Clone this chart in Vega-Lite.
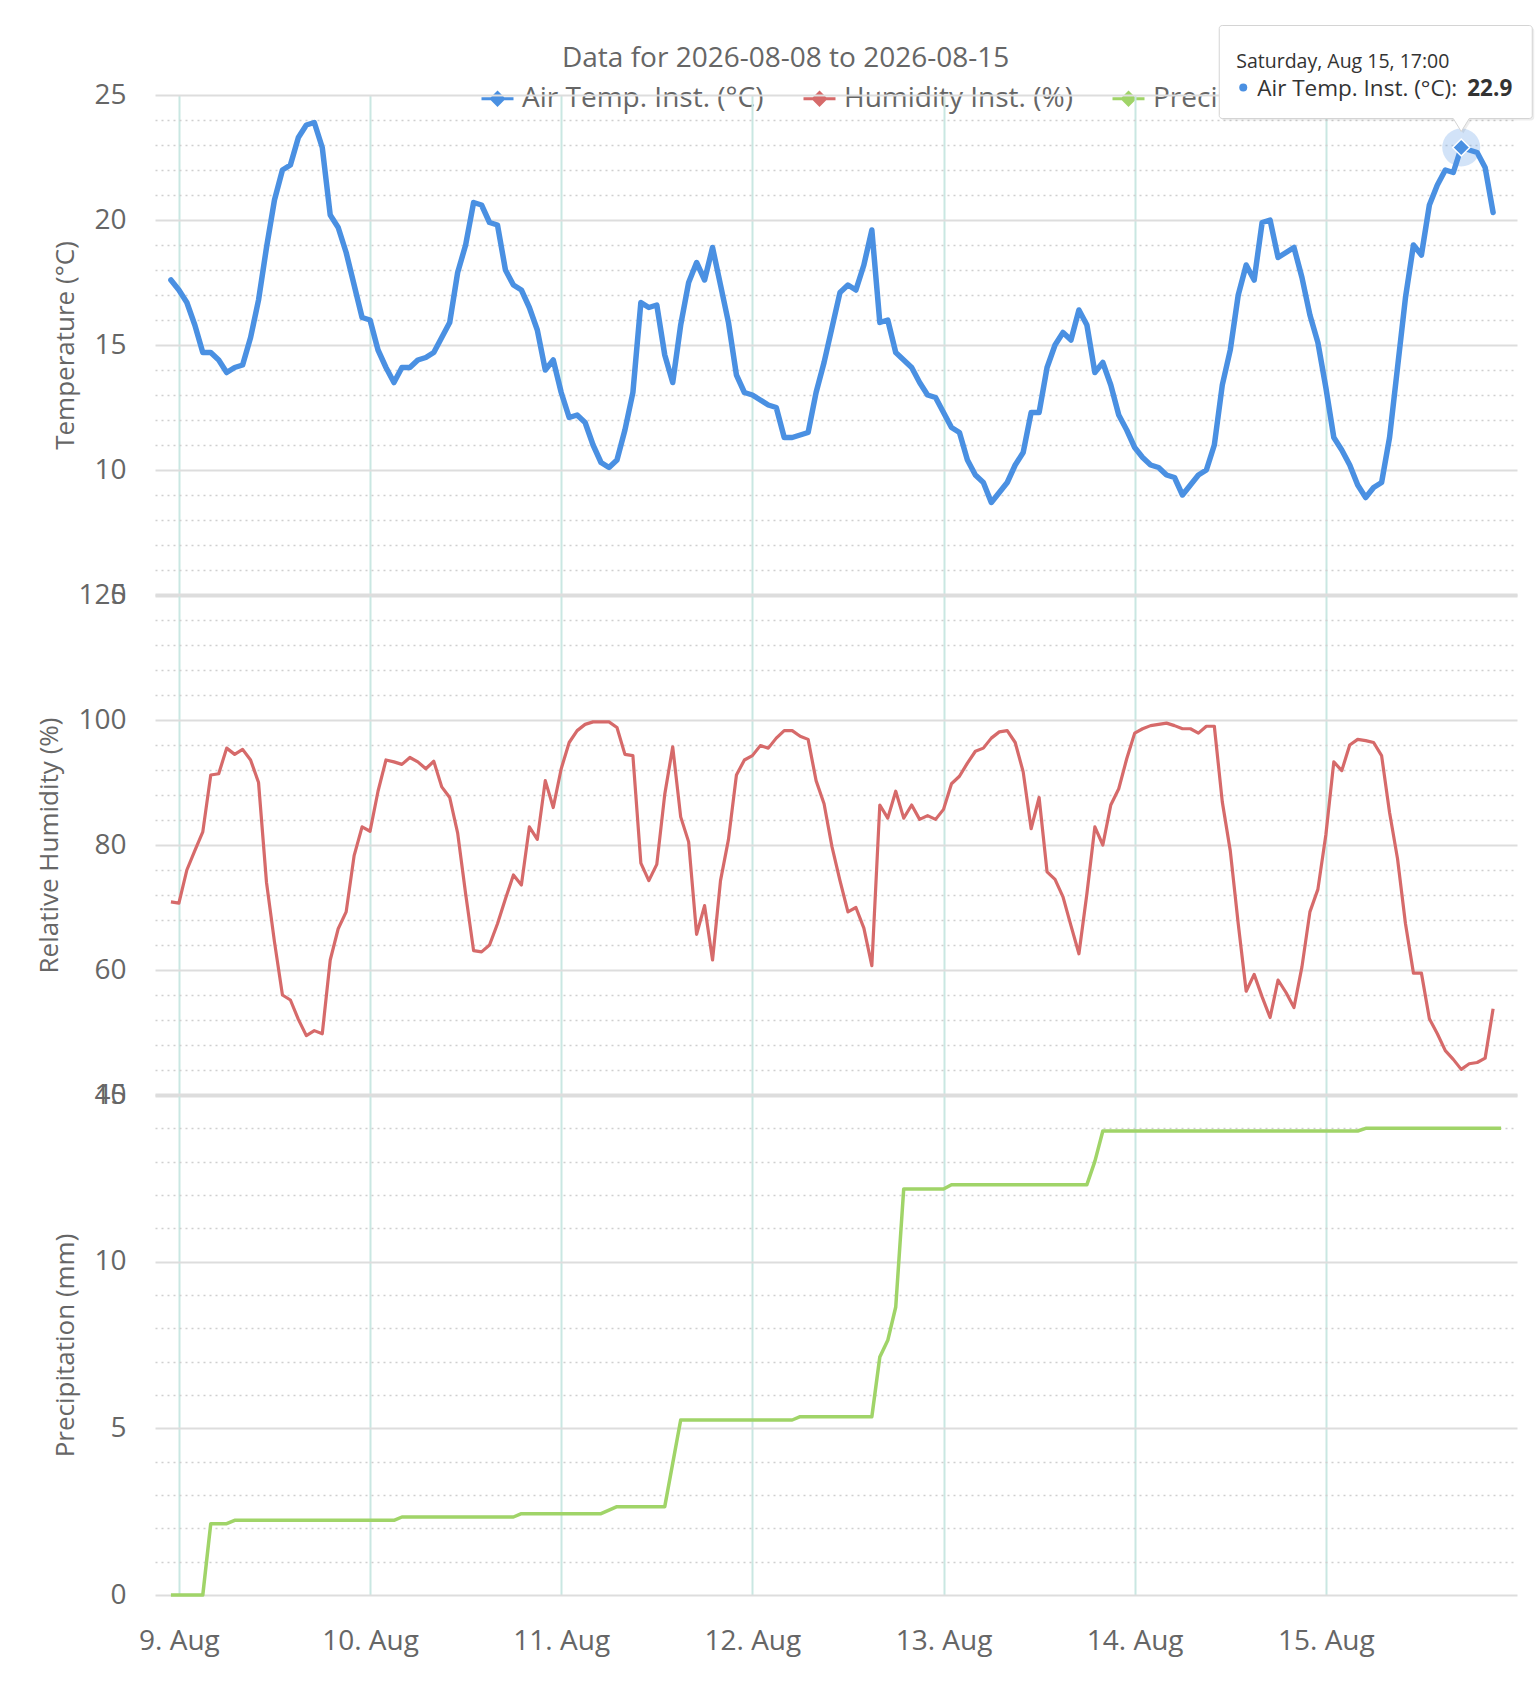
{
  "$schema": "https://vega.github.io/schema/vega-lite/v6.json",
  "description": "Air temperature, humidity and cumulative precipitation, 2026-08-08 to 2026-08-15",
  "background": "white",
  "padding": {"left": 36, "top": 23, "right": 0, "bottom": 20},
  "title": {
    "text": "Data for 2026-08-08 to 2026-08-15",
    "font": "Open Sans",
    "fontSize": 28,
    "fontWeight": "normal",
    "color": "#666666",
    "anchor": "middle",
    "offset": -49
  },
  "config": {
    "font": "Open Sans",
    "view": {"stroke": null},
    "axis": {
      "labelFont": "Open Sans",
      "labelFontSize": 28,
      "labelColor": "#666666",
      "titleFont": "Open Sans",
      "titleFontSize": 26,
      "titleFontWeight": "normal",
      "titleColor": "#666666",
      "domain": false,
      "ticks": false,
      "tickSize": 0,
      "labelFlush": false,
      "labelOverlap": false,
      "labelBound": false
    }
  },
  "datasets": {
    "temp": [
      {"t": "2026-08-08T23:00", "v": 17.6},
      {"t": "2026-08-09T00:00", "v": 17.2}, {"t": "2026-08-09T01:00", "v": 16.7}, {"t": "2026-08-09T02:00", "v": 15.8}, {"t": "2026-08-09T03:00", "v": 14.7},
      {"t": "2026-08-09T04:00", "v": 14.7}, {"t": "2026-08-09T05:00", "v": 14.4}, {"t": "2026-08-09T06:00", "v": 13.9}, {"t": "2026-08-09T07:00", "v": 14.1},
      {"t": "2026-08-09T08:00", "v": 14.2}, {"t": "2026-08-09T09:00", "v": 15.3}, {"t": "2026-08-09T10:00", "v": 16.8}, {"t": "2026-08-09T11:00", "v": 18.9},
      {"t": "2026-08-09T12:00", "v": 20.8}, {"t": "2026-08-09T13:00", "v": 22.0}, {"t": "2026-08-09T14:00", "v": 22.2}, {"t": "2026-08-09T15:00", "v": 23.3},
      {"t": "2026-08-09T16:00", "v": 23.8}, {"t": "2026-08-09T17:00", "v": 23.9}, {"t": "2026-08-09T18:00", "v": 22.9}, {"t": "2026-08-09T19:00", "v": 20.2},
      {"t": "2026-08-09T20:00", "v": 19.7}, {"t": "2026-08-09T21:00", "v": 18.7}, {"t": "2026-08-09T22:00", "v": 17.4}, {"t": "2026-08-09T23:00", "v": 16.1},
      {"t": "2026-08-10T00:00", "v": 16.0}, {"t": "2026-08-10T01:00", "v": 14.8}, {"t": "2026-08-10T02:00", "v": 14.1}, {"t": "2026-08-10T03:00", "v": 13.5},
      {"t": "2026-08-10T04:00", "v": 14.1}, {"t": "2026-08-10T05:00", "v": 14.1}, {"t": "2026-08-10T06:00", "v": 14.4}, {"t": "2026-08-10T07:00", "v": 14.5},
      {"t": "2026-08-10T08:00", "v": 14.7}, {"t": "2026-08-10T09:00", "v": 15.3}, {"t": "2026-08-10T10:00", "v": 15.9}, {"t": "2026-08-10T11:00", "v": 17.9},
      {"t": "2026-08-10T12:00", "v": 19.0}, {"t": "2026-08-10T13:00", "v": 20.7}, {"t": "2026-08-10T14:00", "v": 20.6}, {"t": "2026-08-10T15:00", "v": 19.9},
      {"t": "2026-08-10T16:00", "v": 19.8}, {"t": "2026-08-10T17:00", "v": 18.0}, {"t": "2026-08-10T18:00", "v": 17.4}, {"t": "2026-08-10T19:00", "v": 17.2},
      {"t": "2026-08-10T20:00", "v": 16.5}, {"t": "2026-08-10T21:00", "v": 15.6}, {"t": "2026-08-10T22:00", "v": 14.0}, {"t": "2026-08-10T23:00", "v": 14.4},
      {"t": "2026-08-11T00:00", "v": 13.1}, {"t": "2026-08-11T01:00", "v": 12.1}, {"t": "2026-08-11T02:00", "v": 12.2}, {"t": "2026-08-11T03:00", "v": 11.9},
      {"t": "2026-08-11T04:00", "v": 11.0}, {"t": "2026-08-11T05:00", "v": 10.3}, {"t": "2026-08-11T06:00", "v": 10.1}, {"t": "2026-08-11T07:00", "v": 10.4},
      {"t": "2026-08-11T08:00", "v": 11.6}, {"t": "2026-08-11T09:00", "v": 13.1}, {"t": "2026-08-11T10:00", "v": 16.7}, {"t": "2026-08-11T11:00", "v": 16.5},
      {"t": "2026-08-11T12:00", "v": 16.6}, {"t": "2026-08-11T13:00", "v": 14.6}, {"t": "2026-08-11T14:00", "v": 13.5}, {"t": "2026-08-11T15:00", "v": 15.8},
      {"t": "2026-08-11T16:00", "v": 17.5}, {"t": "2026-08-11T17:00", "v": 18.3}, {"t": "2026-08-11T18:00", "v": 17.6}, {"t": "2026-08-11T19:00", "v": 18.9},
      {"t": "2026-08-11T20:00", "v": 17.4}, {"t": "2026-08-11T21:00", "v": 15.9}, {"t": "2026-08-11T22:00", "v": 13.8}, {"t": "2026-08-11T23:00", "v": 13.1},
      {"t": "2026-08-12T00:00", "v": 13.0}, {"t": "2026-08-12T01:00", "v": 12.8}, {"t": "2026-08-12T02:00", "v": 12.6}, {"t": "2026-08-12T03:00", "v": 12.5},
      {"t": "2026-08-12T04:00", "v": 11.3}, {"t": "2026-08-12T05:00", "v": 11.3}, {"t": "2026-08-12T06:00", "v": 11.4}, {"t": "2026-08-12T07:00", "v": 11.5},
      {"t": "2026-08-12T08:00", "v": 13.1}, {"t": "2026-08-12T09:00", "v": 14.3}, {"t": "2026-08-12T10:00", "v": 15.7}, {"t": "2026-08-12T11:00", "v": 17.1},
      {"t": "2026-08-12T12:00", "v": 17.4}, {"t": "2026-08-12T13:00", "v": 17.2}, {"t": "2026-08-12T14:00", "v": 18.2}, {"t": "2026-08-12T15:00", "v": 19.6},
      {"t": "2026-08-12T16:00", "v": 15.9}, {"t": "2026-08-12T17:00", "v": 16.0}, {"t": "2026-08-12T18:00", "v": 14.7}, {"t": "2026-08-12T19:00", "v": 14.4},
      {"t": "2026-08-12T20:00", "v": 14.1}, {"t": "2026-08-12T21:00", "v": 13.5}, {"t": "2026-08-12T22:00", "v": 13.0}, {"t": "2026-08-12T23:00", "v": 12.9},
      {"t": "2026-08-13T00:00", "v": 12.3}, {"t": "2026-08-13T01:00", "v": 11.7}, {"t": "2026-08-13T02:00", "v": 11.5}, {"t": "2026-08-13T03:00", "v": 10.4},
      {"t": "2026-08-13T04:00", "v": 9.8}, {"t": "2026-08-13T05:00", "v": 9.5}, {"t": "2026-08-13T06:00", "v": 8.7}, {"t": "2026-08-13T07:00", "v": 9.1},
      {"t": "2026-08-13T08:00", "v": 9.5}, {"t": "2026-08-13T09:00", "v": 10.2}, {"t": "2026-08-13T10:00", "v": 10.7}, {"t": "2026-08-13T11:00", "v": 12.3},
      {"t": "2026-08-13T12:00", "v": 12.3}, {"t": "2026-08-13T13:00", "v": 14.1}, {"t": "2026-08-13T14:00", "v": 15.0}, {"t": "2026-08-13T15:00", "v": 15.5},
      {"t": "2026-08-13T16:00", "v": 15.2}, {"t": "2026-08-13T17:00", "v": 16.4}, {"t": "2026-08-13T18:00", "v": 15.8}, {"t": "2026-08-13T19:00", "v": 13.9},
      {"t": "2026-08-13T20:00", "v": 14.3}, {"t": "2026-08-13T21:00", "v": 13.4}, {"t": "2026-08-13T22:00", "v": 12.2}, {"t": "2026-08-13T23:00", "v": 11.6},
      {"t": "2026-08-14T00:00", "v": 10.9}, {"t": "2026-08-14T01:00", "v": 10.5}, {"t": "2026-08-14T02:00", "v": 10.2}, {"t": "2026-08-14T03:00", "v": 10.1},
      {"t": "2026-08-14T04:00", "v": 9.8}, {"t": "2026-08-14T05:00", "v": 9.7}, {"t": "2026-08-14T06:00", "v": 9.0}, {"t": "2026-08-14T07:00", "v": 9.4},
      {"t": "2026-08-14T08:00", "v": 9.8}, {"t": "2026-08-14T09:00", "v": 10.0}, {"t": "2026-08-14T10:00", "v": 11.0}, {"t": "2026-08-14T11:00", "v": 13.4},
      {"t": "2026-08-14T12:00", "v": 14.8}, {"t": "2026-08-14T13:00", "v": 17.0}, {"t": "2026-08-14T14:00", "v": 18.2}, {"t": "2026-08-14T15:00", "v": 17.6},
      {"t": "2026-08-14T16:00", "v": 19.9}, {"t": "2026-08-14T17:00", "v": 20.0}, {"t": "2026-08-14T18:00", "v": 18.5}, {"t": "2026-08-14T19:00", "v": 18.7},
      {"t": "2026-08-14T20:00", "v": 18.9}, {"t": "2026-08-14T21:00", "v": 17.7}, {"t": "2026-08-14T22:00", "v": 16.2}, {"t": "2026-08-14T23:00", "v": 15.1},
      {"t": "2026-08-15T00:00", "v": 13.3}, {"t": "2026-08-15T01:00", "v": 11.3}, {"t": "2026-08-15T02:00", "v": 10.8}, {"t": "2026-08-15T03:00", "v": 10.2},
      {"t": "2026-08-15T04:00", "v": 9.4}, {"t": "2026-08-15T05:00", "v": 8.9}, {"t": "2026-08-15T06:00", "v": 9.3}, {"t": "2026-08-15T07:00", "v": 9.5},
      {"t": "2026-08-15T08:00", "v": 11.3}, {"t": "2026-08-15T09:00", "v": 14.1}, {"t": "2026-08-15T10:00", "v": 16.9}, {"t": "2026-08-15T11:00", "v": 19.0},
      {"t": "2026-08-15T12:00", "v": 18.6}, {"t": "2026-08-15T13:00", "v": 20.6}, {"t": "2026-08-15T14:00", "v": 21.4}, {"t": "2026-08-15T15:00", "v": 22.0},
      {"t": "2026-08-15T16:00", "v": 21.9}, {"t": "2026-08-15T17:00", "v": 22.9}, {"t": "2026-08-15T18:00", "v": 22.8}, {"t": "2026-08-15T19:00", "v": 22.7},
      {"t": "2026-08-15T20:00", "v": 22.1}, {"t": "2026-08-15T21:00", "v": 20.3}
    ],
    "hum": [
      {"t": "2026-08-08T23:00", "v": 70.9},
      {"t": "2026-08-09T00:00", "v": 70.7}, {"t": "2026-08-09T01:00", "v": 76.0}, {"t": "2026-08-09T02:00", "v": 79.1}, {"t": "2026-08-09T03:00", "v": 82.1},
      {"t": "2026-08-09T04:00", "v": 91.2}, {"t": "2026-08-09T05:00", "v": 91.4}, {"t": "2026-08-09T06:00", "v": 95.5}, {"t": "2026-08-09T07:00", "v": 94.5},
      {"t": "2026-08-09T08:00", "v": 95.3}, {"t": "2026-08-09T09:00", "v": 93.6}, {"t": "2026-08-09T10:00", "v": 90.0}, {"t": "2026-08-09T11:00", "v": 74.0},
      {"t": "2026-08-09T12:00", "v": 64.5}, {"t": "2026-08-09T13:00", "v": 56.0}, {"t": "2026-08-09T14:00", "v": 55.2}, {"t": "2026-08-09T15:00", "v": 52.1},
      {"t": "2026-08-09T16:00", "v": 49.5}, {"t": "2026-08-09T17:00", "v": 50.3}, {"t": "2026-08-09T18:00", "v": 49.8}, {"t": "2026-08-09T19:00", "v": 61.6},
      {"t": "2026-08-09T20:00", "v": 66.6}, {"t": "2026-08-09T21:00", "v": 69.3}, {"t": "2026-08-09T22:00", "v": 78.3}, {"t": "2026-08-09T23:00", "v": 82.9},
      {"t": "2026-08-10T00:00", "v": 82.2}, {"t": "2026-08-10T01:00", "v": 88.6}, {"t": "2026-08-10T02:00", "v": 93.6}, {"t": "2026-08-10T03:00", "v": 93.3},
      {"t": "2026-08-10T04:00", "v": 92.9}, {"t": "2026-08-10T05:00", "v": 94.0}, {"t": "2026-08-10T06:00", "v": 93.3}, {"t": "2026-08-10T07:00", "v": 92.2},
      {"t": "2026-08-10T08:00", "v": 93.4}, {"t": "2026-08-10T09:00", "v": 89.3}, {"t": "2026-08-10T10:00", "v": 87.6}, {"t": "2026-08-10T11:00", "v": 81.9},
      {"t": "2026-08-10T12:00", "v": 72.2}, {"t": "2026-08-10T13:00", "v": 63.1}, {"t": "2026-08-10T14:00", "v": 62.9}, {"t": "2026-08-10T15:00", "v": 64.0},
      {"t": "2026-08-10T16:00", "v": 67.4}, {"t": "2026-08-10T17:00", "v": 71.4}, {"t": "2026-08-10T18:00", "v": 75.2}, {"t": "2026-08-10T19:00", "v": 73.6},
      {"t": "2026-08-10T20:00", "v": 82.9}, {"t": "2026-08-10T21:00", "v": 80.9}, {"t": "2026-08-10T22:00", "v": 90.3}, {"t": "2026-08-10T23:00", "v": 86.0},
      {"t": "2026-08-11T00:00", "v": 92.2}, {"t": "2026-08-11T01:00", "v": 96.4}, {"t": "2026-08-11T02:00", "v": 98.3}, {"t": "2026-08-11T03:00", "v": 99.3},
      {"t": "2026-08-11T04:00", "v": 99.7}, {"t": "2026-08-11T05:00", "v": 99.7}, {"t": "2026-08-11T06:00", "v": 99.7}, {"t": "2026-08-11T07:00", "v": 98.8},
      {"t": "2026-08-11T08:00", "v": 94.5}, {"t": "2026-08-11T09:00", "v": 94.3}, {"t": "2026-08-11T10:00", "v": 77.1}, {"t": "2026-08-11T11:00", "v": 74.3},
      {"t": "2026-08-11T12:00", "v": 76.9}, {"t": "2026-08-11T13:00", "v": 88.1}, {"t": "2026-08-11T14:00", "v": 95.7}, {"t": "2026-08-11T15:00", "v": 84.5},
      {"t": "2026-08-11T16:00", "v": 80.5}, {"t": "2026-08-11T17:00", "v": 65.7}, {"t": "2026-08-11T18:00", "v": 70.3}, {"t": "2026-08-11T19:00", "v": 61.6},
      {"t": "2026-08-11T20:00", "v": 74.3}, {"t": "2026-08-11T21:00", "v": 80.9}, {"t": "2026-08-11T22:00", "v": 91.2}, {"t": "2026-08-11T23:00", "v": 93.6},
      {"t": "2026-08-12T00:00", "v": 94.3}, {"t": "2026-08-12T01:00", "v": 95.9}, {"t": "2026-08-12T02:00", "v": 95.5}, {"t": "2026-08-12T03:00", "v": 97.1},
      {"t": "2026-08-12T04:00", "v": 98.3}, {"t": "2026-08-12T05:00", "v": 98.3}, {"t": "2026-08-12T06:00", "v": 97.4}, {"t": "2026-08-12T07:00", "v": 96.9},
      {"t": "2026-08-12T08:00", "v": 90.3}, {"t": "2026-08-12T09:00", "v": 86.6}, {"t": "2026-08-12T10:00", "v": 79.7}, {"t": "2026-08-12T11:00", "v": 74.3},
      {"t": "2026-08-12T12:00", "v": 69.3}, {"t": "2026-08-12T13:00", "v": 70.0}, {"t": "2026-08-12T14:00", "v": 66.7}, {"t": "2026-08-12T15:00", "v": 60.7},
      {"t": "2026-08-12T16:00", "v": 86.4}, {"t": "2026-08-12T17:00", "v": 84.3}, {"t": "2026-08-12T18:00", "v": 88.6}, {"t": "2026-08-12T19:00", "v": 84.3},
      {"t": "2026-08-12T20:00", "v": 86.4}, {"t": "2026-08-12T21:00", "v": 84.1}, {"t": "2026-08-12T22:00", "v": 84.7}, {"t": "2026-08-12T23:00", "v": 84.1},
      {"t": "2026-08-13T00:00", "v": 85.7}, {"t": "2026-08-13T01:00", "v": 89.8}, {"t": "2026-08-13T02:00", "v": 91.0}, {"t": "2026-08-13T03:00", "v": 93.1},
      {"t": "2026-08-13T04:00", "v": 95.0}, {"t": "2026-08-13T05:00", "v": 95.5}, {"t": "2026-08-13T06:00", "v": 97.1}, {"t": "2026-08-13T07:00", "v": 98.1},
      {"t": "2026-08-13T08:00", "v": 98.3}, {"t": "2026-08-13T09:00", "v": 96.4}, {"t": "2026-08-13T10:00", "v": 91.7}, {"t": "2026-08-13T11:00", "v": 82.6},
      {"t": "2026-08-13T12:00", "v": 87.6}, {"t": "2026-08-13T13:00", "v": 75.7}, {"t": "2026-08-13T14:00", "v": 74.5}, {"t": "2026-08-13T15:00", "v": 71.7},
      {"t": "2026-08-13T16:00", "v": 67.1}, {"t": "2026-08-13T17:00", "v": 62.6}, {"t": "2026-08-13T18:00", "v": 72.2}, {"t": "2026-08-13T19:00", "v": 82.9},
      {"t": "2026-08-13T20:00", "v": 80.0}, {"t": "2026-08-13T21:00", "v": 86.4}, {"t": "2026-08-13T22:00", "v": 89.0}, {"t": "2026-08-13T23:00", "v": 93.8},
      {"t": "2026-08-14T00:00", "v": 97.9}, {"t": "2026-08-14T01:00", "v": 98.6}, {"t": "2026-08-14T02:00", "v": 99.1}, {"t": "2026-08-14T03:00", "v": 99.3},
      {"t": "2026-08-14T04:00", "v": 99.5}, {"t": "2026-08-14T05:00", "v": 99.1}, {"t": "2026-08-14T06:00", "v": 98.6}, {"t": "2026-08-14T07:00", "v": 98.6},
      {"t": "2026-08-14T08:00", "v": 97.9}, {"t": "2026-08-14T09:00", "v": 99.0}, {"t": "2026-08-14T10:00", "v": 99.0}, {"t": "2026-08-14T11:00", "v": 86.9},
      {"t": "2026-08-14T12:00", "v": 79.1}, {"t": "2026-08-14T13:00", "v": 67.4}, {"t": "2026-08-14T14:00", "v": 56.6}, {"t": "2026-08-14T15:00", "v": 59.3},
      {"t": "2026-08-14T16:00", "v": 55.7}, {"t": "2026-08-14T17:00", "v": 52.4}, {"t": "2026-08-14T18:00", "v": 58.4}, {"t": "2026-08-14T19:00", "v": 56.4},
      {"t": "2026-08-14T20:00", "v": 54.0}, {"t": "2026-08-14T21:00", "v": 60.5}, {"t": "2026-08-14T22:00", "v": 69.3}, {"t": "2026-08-14T23:00", "v": 72.9},
      {"t": "2026-08-15T00:00", "v": 81.6}, {"t": "2026-08-15T01:00", "v": 93.3}, {"t": "2026-08-15T02:00", "v": 91.9}, {"t": "2026-08-15T03:00", "v": 96.0},
      {"t": "2026-08-15T04:00", "v": 96.9}, {"t": "2026-08-15T05:00", "v": 96.7}, {"t": "2026-08-15T06:00", "v": 96.4}, {"t": "2026-08-15T07:00", "v": 94.3},
      {"t": "2026-08-15T08:00", "v": 85.2}, {"t": "2026-08-15T09:00", "v": 77.8}, {"t": "2026-08-15T10:00", "v": 67.4}, {"t": "2026-08-15T11:00", "v": 59.5},
      {"t": "2026-08-15T12:00", "v": 59.5}, {"t": "2026-08-15T13:00", "v": 52.2}, {"t": "2026-08-15T14:00", "v": 49.8}, {"t": "2026-08-15T15:00", "v": 47.1},
      {"t": "2026-08-15T16:00", "v": 45.7}, {"t": "2026-08-15T17:00", "v": 44.1}, {"t": "2026-08-15T18:00", "v": 45.0}, {"t": "2026-08-15T19:00", "v": 45.2},
      {"t": "2026-08-15T20:00", "v": 45.9}, {"t": "2026-08-15T21:00", "v": 53.8}
    ],
    "precip": [
      {"t": "2026-08-08T23:00", "v": 0}, {"t": "2026-08-09T03:00", "v": 0}, {"t": "2026-08-09T04:00", "v": 2.14},
      {"t": "2026-08-09T06:00", "v": 2.14}, {"t": "2026-08-09T07:00", "v": 2.24}, {"t": "2026-08-10T03:00", "v": 2.24},
      {"t": "2026-08-10T04:00", "v": 2.34}, {"t": "2026-08-10T18:00", "v": 2.34}, {"t": "2026-08-10T19:00", "v": 2.44},
      {"t": "2026-08-11T05:00", "v": 2.44}, {"t": "2026-08-11T07:00", "v": 2.65}, {"t": "2026-08-11T13:00", "v": 2.65},
      {"t": "2026-08-11T15:00", "v": 5.25}, {"t": "2026-08-12T05:00", "v": 5.25}, {"t": "2026-08-12T06:00", "v": 5.35},
      {"t": "2026-08-12T15:00", "v": 5.35}, {"t": "2026-08-12T16:00", "v": 7.14}, {"t": "2026-08-12T17:00", "v": 7.64},
      {"t": "2026-08-12T18:00", "v": 8.64}, {"t": "2026-08-12T19:00", "v": 12.18}, {"t": "2026-08-13T00:00", "v": 12.18},
      {"t": "2026-08-13T01:00", "v": 12.31}, {"t": "2026-08-13T18:00", "v": 12.31}, {"t": "2026-08-13T19:00", "v": 13.01},
      {"t": "2026-08-13T20:00", "v": 13.92}, {"t": "2026-08-15T04:00", "v": 13.92}, {"t": "2026-08-15T05:00", "v": 14.0},
      {"t": "2026-08-15T22:00", "v": 14.0}
    ],
    "hover": [
      {"t": "2026-08-15T17:00", "v": 22.9}
    ]
  },
  "spacing": 0,
  "bounds": "flush",
  "resolve": {"scale": {"color": "independent"}, "legend": {"color": "independent"}},
  "vconcat": [
    {
      "width": 1362,
      "height": 1,
      "data": {"values": [{"t": "2026-08-09T00:00"}]},
      "mark": {"type": "line", "strokeWidth": 3},
      "encoding": {
        "x": {
          "field": "t", "type": "temporal", "axis": null,
          "scale": {"domain": [{"year": 2026, "month": 8, "date": 8, "hours": 21}, {"year": 2026, "month": 8, "date": 16, "hours": 0}]}
        },
        "color": {
          "datum": "Air Temp. Inst. (°C)",
          "scale": {"domain": ["Air Temp. Inst. (°C)", "Humidity Inst. (%)", "Precipitation (mm)"], "range": ["#4a90e2", "#d66a6a", "#a0d468"]},
          "legend": {
            "title": null,
            "orient": "none",
            "legendX": 325,
            "legendY": -13,
            "direction": "horizontal",
            "columns": 3,
            "padding": 0,
            "symbolType": "M-1,0L1,0M0,-0.38L0.38,0L0,0.38L-0.38,0ZM0,-0.2L0.2,0L0,0.2L-0.2,0ZM0,-0.06L0.06,0L0,0.06L-0.06,0Z",
            "symbolSize": 1024,
            "symbolStrokeWidth": 3,
            "labelFont": "Open Sans",
            "labelFontSize": 28,
            "labelColor": "#666666",
            "labelOffset": 7,
            "labelLimit": 500,
            "columnPadding": 33
          }
        }
      }
    },
    {
      "width": 1362,
      "height": 500,
      "data": {"name": "temp"},
      "resolve": {"axis": {"y": "independent"}},
      "layer": [
        {
          "mark": {"type": "line", "strokeOpacity": 0},
          "encoding": {
            "x": {
              "field": "t", "type": "temporal",
              "scale": {"domain": [{"year": 2026, "month": 8, "date": 8, "hours": 21}, {"year": 2026, "month": 8, "date": 16, "hours": 0}]},
              "axis": {
                "values": [{"year": 2026, "month": 8, "date": 9}, {"year": 2026, "month": 8, "date": 10}, {"year": 2026, "month": 8, "date": 11}, {"year": 2026, "month": 8, "date": 12}, {"year": 2026, "month": 8, "date": 13}, {"year": 2026, "month": 8, "date": 14}, {"year": 2026, "month": 8, "date": 15}],
                "labels": false, "title": null, "grid": true, "gridColor": "#c9e7e2", "gridWidth": 2
              }
            },
            "y": {
              "field": "v", "type": "quantitative",
              "scale": {"domain": [5, 25], "nice": false, "zero": false},
              "axis": {
                "orient": "left", "title": null, "labels": false,
                "values": [6, 7, 8, 9, 11, 12, 13, 14, 16, 17, 18, 19, 21, 22, 23, 24],
                "grid": true, "gridColor": "#cfcfcf", "gridDash": [2, 4], "gridWidth": 1.5
              }
            }
          }
        },
        {
          "mark": {"type": "line", "strokeWidth": 5.5, "strokeJoin": "round", "strokeCap": "round"},
          "encoding": {
            "x": {"field": "t", "type": "temporal"},
            "y": {
              "field": "v", "type": "quantitative",
              "axis": {
                "orient": "left", "title": "Temperature (°C)",
                "values": [5, 10, 15, 20, 25],
                "labelPadding": 29, "titlePadding": 15,
                "grid": true, "gridColor": "#dddddd",
                "gridWidth": {"condition": {"test": "datum.value === 5", "value": 4}, "value": 2}
              }
            },
            "color": {
              "datum": "Air Temp. Inst. (°C)",
              "scale": {"domain": ["Air Temp. Inst. (°C)", "Humidity Inst. (%)", "Precipitation (mm)"], "range": ["#4a90e2", "#d66a6a", "#a0d468"]},
              "legend": null
            }
          }
        },
        {
          "data": {"name": "hover"},
          "mark": {"type": "point", "shape": "circle", "size": 1444, "filled": true, "color": "#4a90e2", "opacity": 0.25},
          "encoding": {"x": {"field": "t", "type": "temporal"}, "y": {"field": "v", "type": "quantitative", "axis": null}}
        },
        {
          "data": {"name": "hover"},
          "mark": {"type": "point", "shape": "diamond", "size": 289, "filled": true, "fill": "#4a90e2", "stroke": "#ffffff", "strokeWidth": 1.5, "opacity": 1},
          "encoding": {"x": {"field": "t", "type": "temporal"}, "y": {"field": "v", "type": "quantitative", "axis": null}}
        },
        {
          "data": {"name": "hover"},
          "mark": {
            "type": "point", "size": 4, "filled": true, "fill": "#000000", "opacity": 0.07, "xOffset": 2, "yOffset": 2,
            "shape": "M-239,-122H68A3,3 0 0 1 71,-119V-32A3,3 0 0 1 68,-29H8L0,-16L-8,-29H-239A3,3 0 0 1 -242,-32V-119A3,3 0 0 1 -239,-122Z"
          },
          "encoding": {"x": {"field": "t", "type": "temporal"}, "y": {"field": "v", "type": "quantitative", "axis": null}}
        },
        {
          "data": {"name": "hover"},
          "mark": {
            "type": "point", "size": 4, "filled": true, "fill": "#ffffff", "stroke": "#d4d4d4", "strokeWidth": 1, "opacity": 1,
            "shape": "M-239,-122H68A3,3 0 0 1 71,-119V-32A3,3 0 0 1 68,-29H8L0,-16L-8,-29H-239A3,3 0 0 1 -242,-32V-119A3,3 0 0 1 -239,-122Z"
          },
          "encoding": {"x": {"field": "t", "type": "temporal"}, "y": {"field": "v", "type": "quantitative", "axis": null}}
        },
        {
          "data": {"name": "hover"},
          "mark": {"type": "text", "align": "left", "baseline": "alphabetic", "dx": -225, "dy": -80, "font": "Open Sans", "fontSize": 19.5, "color": "#333333"},
          "encoding": {
            "x": {"field": "t", "type": "temporal"}, "y": {"field": "v", "type": "quantitative", "axis": null},
            "text": {"field": "t", "type": "temporal", "format": "%A, %b %-d, %H:%M"}
          }
        },
        {
          "data": {"name": "hover"},
          "mark": {"type": "point", "shape": "circle", "size": 64, "filled": true, "color": "#4a90e2", "opacity": 1, "xOffset": -218, "yOffset": -60},
          "encoding": {"x": {"field": "t", "type": "temporal"}, "y": {"field": "v", "type": "quantitative", "axis": null}}
        },
        {
          "data": {"name": "hover"},
          "mark": {"type": "text", "align": "left", "baseline": "alphabetic", "dx": -204, "dy": -52, "font": "Open Sans", "fontSize": 22.5, "color": "#333333", "text": "Air Temp. Inst. (°C): "},
          "encoding": {"x": {"field": "t", "type": "temporal"}, "y": {"field": "v", "type": "quantitative", "axis": null}}
        },
        {
          "data": {"name": "hover"},
          "mark": {"type": "text", "align": "left", "baseline": "alphabetic", "dx": 6, "dy": -52, "font": "Open Sans", "fontSize": 22.5, "fontWeight": "bold", "color": "#333333"},
          "encoding": {
            "x": {"field": "t", "type": "temporal"}, "y": {"field": "v", "type": "quantitative", "axis": null},
            "text": {"field": "v", "type": "quantitative", "format": ".1f"}
          }
        }
      ]
    },
    {
      "width": 1362,
      "height": 500,
      "data": {"name": "hum"},
      "resolve": {"axis": {"y": "independent"}},
      "layer": [
        {
          "mark": {"type": "line", "strokeOpacity": 0},
          "encoding": {
            "x": {
              "field": "t", "type": "temporal",
              "scale": {"domain": [{"year": 2026, "month": 8, "date": 8, "hours": 21}, {"year": 2026, "month": 8, "date": 16, "hours": 0}]},
              "axis": {
                "values": [{"year": 2026, "month": 8, "date": 9}, {"year": 2026, "month": 8, "date": 10}, {"year": 2026, "month": 8, "date": 11}, {"year": 2026, "month": 8, "date": 12}, {"year": 2026, "month": 8, "date": 13}, {"year": 2026, "month": 8, "date": 14}, {"year": 2026, "month": 8, "date": 15}],
                "labels": false, "title": null, "grid": true, "gridColor": "#c9e7e2", "gridWidth": 2
              }
            },
            "y": {
              "field": "v", "type": "quantitative",
              "scale": {"domain": [40, 120], "nice": false, "zero": false},
              "axis": {
                "orient": "left", "title": null, "labels": false,
                "values": [44, 48, 52, 56, 64, 68, 72, 76, 84, 88, 92, 96, 104, 108, 112, 116],
                "grid": true, "gridColor": "#cfcfcf", "gridDash": [2, 4], "gridWidth": 1.5
              }
            }
          }
        },
        {
          "mark": {"type": "line", "strokeWidth": 3.2, "strokeJoin": "round"},
          "encoding": {
            "x": {"field": "t", "type": "temporal"},
            "y": {
              "field": "v", "type": "quantitative",
              "axis": {
                "orient": "left", "title": "Relative Humidity (%)",
                "values": [40, 60, 80, 100, 120],
                "labelPadding": 29, "titlePadding": 15,
                "grid": true, "gridColor": "#dddddd",
                "gridWidth": {"condition": {"test": "datum.value === 40", "value": 4}, "value": 2}
              }
            },
            "color": {
              "datum": "Humidity Inst. (%)",
              "scale": {"domain": ["Air Temp. Inst. (°C)", "Humidity Inst. (%)", "Precipitation (mm)"], "range": ["#4a90e2", "#d66a6a", "#a0d468"]},
              "legend": null
            }
          }
        }
      ]
    },
    {
      "width": 1362,
      "height": 500,
      "data": {"name": "precip"},
      "resolve": {"axis": {"y": "independent"}},
      "layer": [
        {
          "mark": {"type": "line", "strokeOpacity": 0},
          "encoding": {
            "x": {
              "field": "t", "type": "temporal",
              "scale": {"domain": [{"year": 2026, "month": 8, "date": 8, "hours": 21}, {"year": 2026, "month": 8, "date": 16, "hours": 0}]},
              "axis": {
                "values": [{"year": 2026, "month": 8, "date": 9}, {"year": 2026, "month": 8, "date": 10}, {"year": 2026, "month": 8, "date": 11}, {"year": 2026, "month": 8, "date": 12}, {"year": 2026, "month": 8, "date": 13}, {"year": 2026, "month": 8, "date": 14}, {"year": 2026, "month": 8, "date": 15}],
                "format": "%-d. %b", "labelPadding": 32, "title": null,
                "grid": true, "gridColor": "#c9e7e2", "gridWidth": 2
              }
            },
            "y": {
              "field": "v", "type": "quantitative",
              "scale": {"domain": [0, 15], "nice": false},
              "axis": {
                "orient": "left", "title": null, "labels": false,
                "values": [1, 2, 3, 4, 6, 7, 8, 9, 11, 12, 13, 14],
                "grid": true, "gridColor": "#cfcfcf", "gridDash": [2, 4], "gridWidth": 1.5
              }
            }
          }
        },
        {
          "mark": {"type": "line", "strokeWidth": 3.5, "strokeJoin": "round"},
          "encoding": {
            "x": {"field": "t", "type": "temporal"},
            "y": {
              "field": "v", "type": "quantitative",
              "axis": {
                "orient": "left", "title": "Precipitation (mm)",
                "values": [0, 5, 10, 15],
                "labelPadding": 29, "titlePadding": 15,
                "grid": true, "gridColor": "#dddddd",
                "gridWidth": 2
              }
            },
            "color": {
              "datum": "Precipitation (mm)",
              "scale": {"domain": ["Air Temp. Inst. (°C)", "Humidity Inst. (%)", "Precipitation (mm)"], "range": ["#4a90e2", "#d66a6a", "#a0d468"]},
              "legend": null
            }
          }
        }
      ]
    }
  ]
}
